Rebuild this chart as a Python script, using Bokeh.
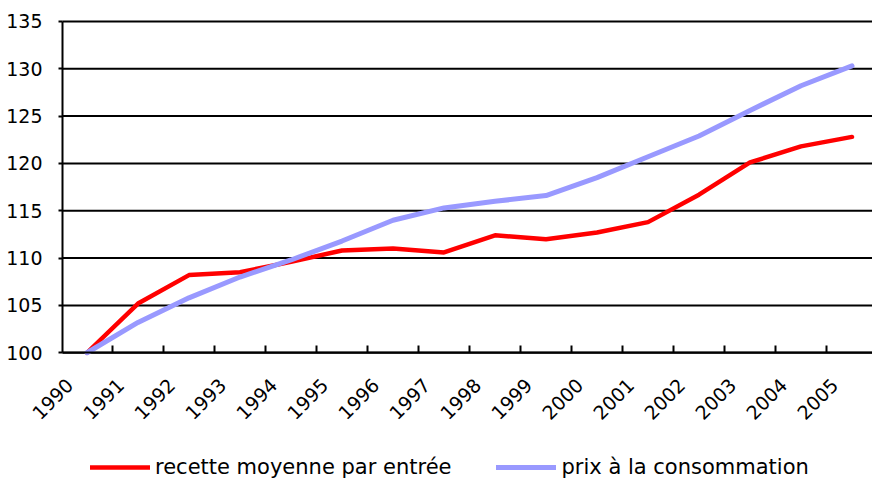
import math
from bokeh.plotting import figure
from bokeh.models import FixedTicker, Legend, LegendItem, Range1d, ColumnDataSource
from bokeh.embed import file_html
from bokeh.resources import INLINE

years = list(range(1990, 2006))
year_labels = [str(y) for y in years]
recette = [100, 105.2, 108.2, 108.5, 109.6, 110.8, 111.0, 110.6, 112.4, 112.0,
           112.7, 113.8, 116.7, 120.1, 121.8, 122.8]
prix = [100, 103.2, 105.8, 108.0, 109.8, 111.8, 114.0, 115.3, 116.0, 116.6,
        118.5, 120.7, 122.9, 125.6, 128.2, 130.3]
y_ticks = [100, 105, 110, 115, 120, 125, 130, 135]

# category band edges of the plotting area (half a category around the years)
x_lo, x_hi = 1989.52, 2005.40

src = ColumnDataSource(dict(year=years, recette=recette, prix=prix))
grid_src = ColumnDataSource(dict(y=y_ticks, x0=[x_lo] * len(y_ticks),
                                 x1=[x_hi] * len(y_ticks)))

# the frame covers the whole page; both axes are pinned inside it so that
# their labels and the legend are never cut off
p = figure(frame_width=872, frame_height=479,
           x_range=Range1d(1988.304, 2005.402), y_range=Range1d(86.61, 137.21),
           output_backend="svg", toolbar_location=None,
           min_border_left=0, min_border_right=0, min_border_top=0,
           min_border_bottom=0)
p.outline_line_color = None
p.background_fill_color = "white"
p.border_fill_color = "white"
p.xgrid.visible = False
p.ygrid.visible = False

# horizontal grid lines between the axis and the right edge
p.segment(x0="x0", y0="y", x1="x1", y1="y", source=grid_src,
          line_color="black", line_width=2)

font = "DejaVu Sans"

p.yaxis.fixed_location = x_lo
p.yaxis.ticker = FixedTicker(ticks=y_ticks)
p.yaxis.bounds = (y_ticks[0], y_ticks[-1])
p.yaxis.axis_line_color = "black"
p.yaxis.axis_line_width = 2
p.yaxis.major_tick_in = 0
p.yaxis.major_tick_out = 4
p.yaxis.major_tick_line_color = "black"
p.yaxis.major_tick_line_width = 2
p.yaxis.minor_tick_line_color = None
p.yaxis.major_label_standoff = 16
p.yaxis.major_label_text_font = font
p.yaxis.major_label_text_font_size = "19px"
p.yaxis.major_label_text_color = "black"

# labels sit slightly left of each category centre, as in the reference
label_pos = [y - 0.34 for y in years]
p.xaxis.fixed_location = y_ticks[0]
p.xaxis.bounds = (x_lo, x_hi)
p.xaxis.ticker = FixedTicker(ticks=label_pos, minor_ticks=[y + 0.5 for y in years])
p.xaxis.major_label_overrides = {t: lab for t, lab in zip(label_pos, year_labels)}
p.xaxis.axis_line_color = "black"
p.xaxis.axis_line_width = 2
p.xaxis.major_tick_in = 0
p.xaxis.major_tick_out = 0
p.xaxis.minor_tick_in = 7
p.xaxis.minor_tick_out = 0
p.xaxis.minor_tick_line_color = "black"
p.xaxis.minor_tick_line_width = 2
p.xaxis.major_label_orientation = math.pi / 4
p.xaxis.major_label_standoff = 29
p.xaxis.major_label_text_font = font
p.xaxis.major_label_text_font_size = "19px"
p.xaxis.major_label_text_color = "black"

r1 = p.line("year", "recette", source=src, line_color="#FF0000", line_width=4.5,
            line_cap="round")
r2 = p.line("year", "prix", source=src, line_color="#9999FF", line_width=5,
            line_cap="round")

legend = Legend(items=[LegendItem(label="recette moyenne par entrée", renderers=[r1]),
                       LegendItem(label="prix à la consommation", renderers=[r2])],
                location=(90, 0), orientation="horizontal",
                glyph_width=60, glyph_height=20, label_standoff=5, spacing=45,
                padding=0, margin=0, border_line_color=None,
                background_fill_alpha=0,
                label_text_font=font, label_text_font_size="21px",
                label_text_color="black")
p.add_layout(legend, "center")

open("out.html", "w").write(file_html(p, INLINE))
